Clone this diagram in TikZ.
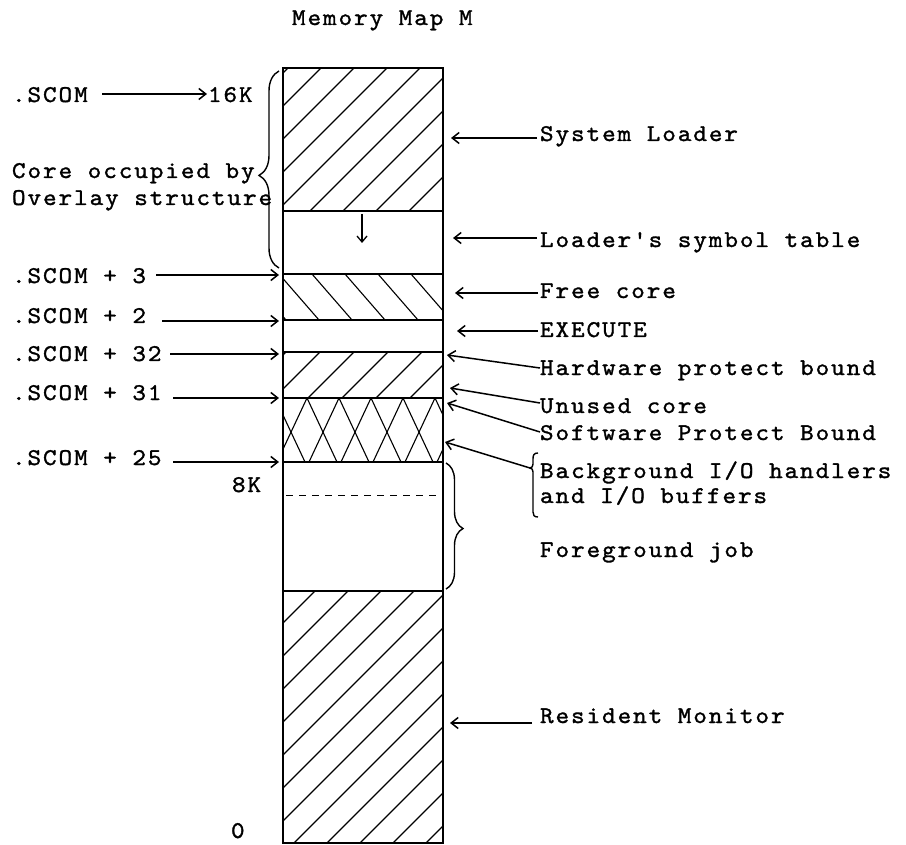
\documentclass[tikz,border=0pt]{standalone}
\usepackage{fontspec}
\newfontfamily\tyfont{lmmono10-regular.otf}[FakeStretch=1.08, LetterSpace=8, FakeBold=1.3]
\usetikzlibrary{arrows.meta,decorations.pathreplacing}
\newcommand\lblfont{\tyfont\fontsize{24}{28}\selectfont}
\begin{document}
\begin{tikzpicture}[x=1pt,y=-1pt,
  frame/.style={line width=1.7pt},
  hatch/.style={line width=1.1pt},
  lbl/.style={font=\lblfont, anchor=base west, inner sep=0pt, outer sep=0pt},
  ptr/.style={line width=1.5pt, -{Straight Barb[length=7pt,width=11pt]}},
  brc/.style={line width=1.4pt, decorate},
  ]
\useasboundingbox (0,0) rectangle (906,845);

% ---------- hatching ----------
\begin{scope}
  \clip (283,68) rectangle (443,211);
  \foreach \b in {145,178,...,442} \draw[hatch] (\b,211) -- ++(160,-160);
\end{scope}
\begin{scope}
  \clip (283,274) rectangle (443,320);
  \foreach \t in {246,279,...,444} \draw[hatch] (\t,274) -- ++(40,46);
\end{scope}
\begin{scope}
  \clip (283,352) rectangle (443,398);
  \foreach \b in {240,274,...,444} \draw[hatch] (\b,398) -- ++(46,-46);
\end{scope}
\begin{scope}
  \clip (283,398) rectangle (443,462);
  \foreach \t in {243,275,...,480} {
    \draw[hatch] (\t,398) -- ++(30,64);
    \draw[hatch] (\t,398) -- ++(-30,64);
  }
\end{scope}
\begin{scope}
  \clip (283,591) rectangle (443,843);
  \foreach \t in {282,315,...,711} \draw[hatch] (\t,591) -- ++(-252,252);
\end{scope}

% ---------- column ----------
\draw[frame] (283,68) rectangle (443,843);
\foreach \y in {211,274,320,352,398,462,591} \draw[frame] (283,\y) -- (443,\y);
\draw[line width=1pt, dash pattern=on 7pt off 6pt] (286,495) -- (441,495);

% down arrow in symbol table
\coordinate (dnT) at (362,214);
\coordinate (dnH) at (362,243);
\draw[line width=1.3pt, -{Straight Barb[length=6pt,width=10pt]}] (dnT) -- (dnH);

% ---------- title ----------
\node[lbl] (title) at (292,25) {Memory Map M};

% ---------- left labels ----------
\node[lbl] (scom) at (12,102) {.SCOM};
\node[lbl] (k16) at (208,102) {16K};
\node[lbl] (core1) at (12,178) {Core occupied by};
\node[lbl] (core2) at (12,205) {Overlay structure};
\node[lbl] (s3) at (12,283) {.SCOM + 3};
\node[lbl] (s2) at (12,323) {.SCOM + 2};
\node[lbl] (s32) at (12,361) {.SCOM + 32};
\node[lbl] (s31) at (12,400) {.SCOM + 31};
\node[lbl] (s25) at (12,465) {.SCOM + 25};
\node[lbl] (k8) at (232,492) {8K};
\node[lbl] (k0) at (231,838) {0};

\coordinate (scomT) at (102,94);  \coordinate (scomH) at (207,94);
\coordinate (s3T) at (156,275);   \coordinate (s3H) at (279,275);
\coordinate (s2T) at (162,321);   \coordinate (s2H) at (279,321);
\coordinate (s32T) at (170,354);  \coordinate (s32H) at (279,354);
\coordinate (s31T) at (173,398);  \coordinate (s31H) at (279,398);
\coordinate (s25T) at (173,462);  \coordinate (s25H) at (279,462);
\draw[ptr] (scomT) -- (scomH);
\draw[ptr] (s3T) -- (s3H);
\draw[ptr] (s2T) -- (s2H);
\draw[ptr] (s32T) -- (s32H);
\draw[ptr] (s31T) -- (s31H);
\draw[ptr] (s25T) -- (s25H);

% brace for overlay structure
\coordinate (ovB) at (279,268);
\coordinate (ovT) at (279,71);
\draw[brc, decoration={brace, amplitude=20pt, aspect=0.47}] (ovB) -- (ovT);

% ---------- right labels ----------
\node[lbl] (sysl) at (540,141) {System Loader};
\node[lbl] (symt) at (540,247) {Loader's symbol table};
\node[lbl] (free) at (540,298) {Free core};
\node[lbl] (exec) at (540,337) {EXECUTE};
\node[lbl] (hwpb) at (540,375) {Hardware protect bound};
\node[lbl] (unus) at (540,413) {Unused core};
\node[lbl] (swpb) at (540,440) {Software Protect Bound};
\node[lbl] (bg1) at (540,478) {Background I/O handlers};
\node[lbl] (bg2) at (540,503) {and I/O buffers};
\node[lbl] (fg) at (540,557) {Foreground job};
\node[lbl] (resm) at (540,723) {Resident Monitor};

\coordinate (syslT) at (537,138); \coordinate (syslH) at (451,138);
\coordinate (symtT) at (537,238); \coordinate (symtH) at (453,238);
\coordinate (freeT) at (538,293); \coordinate (freeH) at (455,293);
\coordinate (execT) at (538,331); \coordinate (execH) at (457,331);
\coordinate (hwpbT) at (540,368); \coordinate (hwpbH) at (447,355);
\coordinate (unusT) at (540,403); \coordinate (unusH) at (450,388);
\coordinate (swpbT) at (540,432); \coordinate (swpbH) at (447,403);
\coordinate (bgT) at (530,468);   \coordinate (bgH) at (445,442);
\coordinate (resmT) at (532,723); \coordinate (resmH) at (450,723);
\draw[ptr] (syslT) -- (syslH);
\draw[ptr] (symtT) -- (symtH);
\draw[ptr] (freeT) -- (freeH);
\draw[ptr] (execT) -- (execH);
\draw[ptr] (hwpbT) -- (hwpbH);
\draw[ptr] (unusT) -- (unusH);
\draw[ptr] (swpbT) -- (swpbH);
\draw[ptr] (bgT) -- (bgH);
\draw[ptr] (resmT) -- (resmH);

% bracket for background I/O
\draw[line width=1.4pt] (538,453) .. controls (534,453) and (533,455) .. (533,459)
  -- (533,464) .. controls (533,466) and (532,468) .. (bgT)
  .. controls (532,468) and (533,470) .. (533,472)
  -- (533,512) .. controls (533,515) and (534,517) .. (538,517);

% brace for foreground job
\coordinate (fgT) at (446,463);
\coordinate (fgB) at (446,589);
\draw[brc, decoration={brace, amplitude=17pt, aspect=0.52}] (fgT) -- (fgB);
\end{tikzpicture}
\end{document}
